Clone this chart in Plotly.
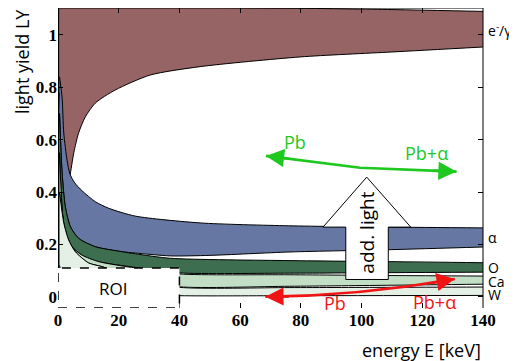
import plotly.graph_objects as go

# ---------------- data ----------------
# e-/gamma band
eg_up_E = [0.5, 50, 80, 110, 140]
eg_up_LY = [1.107, 1.105, 1.102, 1.097, 1.09]
eg_lo_E = [0.5, 1.0, 1.9, 3.0, 3.9, 5.2, 6.8, 9.0, 12.3, 18.9, 30.4, 46.8, 79.7, 110, 140]
eg_lo_LY = [0.78, 0.66, 0.5, 0.42, 0.46, 0.55, 0.626, 0.687, 0.74, 0.79, 0.847, 0.879, 0.916, 0.935, 0.954]

# alpha band
al_up_E = [0.5, 1.35, 1.9, 3.0, 3.9, 5.5, 7.9, 12.3, 16.7, 25.5, 46.8, 76, 110, 140]
al_up_LY = [0.84, 0.76, 0.625, 0.52, 0.47, 0.435, 0.405, 0.363, 0.338, 0.308, 0.282, 0.271, 0.266, 0.263]
al_lo_E = [0.5, 1.35, 2.4, 4.1, 6.8, 12.3, 21.1, 25.5, 37, 50, 76.4, 110, 140]
al_lo_LY = [0.7, 0.473, 0.344, 0.267, 0.223, 0.191, 0.172, 0.167, 0.156, 0.158, 0.171, 0.18, 0.19]

# O band
o_up_E = [0.5, 1.35, 2.4, 4.1, 6.8, 12.3, 21.1, 25.5, 37, 76.4, 110, 140]
o_up_LY = [0.7, 0.473, 0.344, 0.267, 0.223, 0.191, 0.172, 0.164, 0.147, 0.138, 0.134, 0.13]
o_lo_E = [0.5, 1.4, 2.4, 4.6, 7.9, 13.4, 25.5, 40, 76.4, 110, 140]
o_lo_LY = [0.55, 0.33, 0.243, 0.191, 0.159, 0.134, 0.112, 0.091, 0.09, 0.092, 0.094]

# Ca band
ca_up_E = [0.5, 1.4, 2.4, 4.6, 7.9, 13.4, 25.5, 40, 76.4, 110, 140]
ca_up_LY = [0.55, 0.33, 0.243, 0.191, 0.159, 0.134, 0.11, 0.087, 0.084, 0.081, 0.079]
ca_lo_E = [0.5, 1.9, 3.5, 5.7, 10.1, 14.5, 25, 40, 76.4, 110, 140]
ca_lo_LY = [0.4, 0.282, 0.217, 0.172, 0.129, 0.115, 0.07, 0.038, 0.04, 0.044, 0.048]

# W band
w_up_E = [0.5, 1.9, 3.5, 5.7, 10.1, 14.5, 25, 40, 76.4, 110, 140]
w_up_LY = [0.4, 0.282, 0.217, 0.172, 0.129, 0.115, 0.07, 0.036, 0.035, 0.036, 0.037]
w_lo_E = [0.5, 1.5, 3, 10, 40, 76.4, 140]
w_lo_LY = [0.12, 0.07, 0.04, 0.015, 0.004, 0.004, 0.005]

band_names = ["e<sup>-</sup>/γ", "α", "O", "Ca", "W"]
band_colors = ["#966464", "#6577a2", "#3d6e50", "#c2dfc6", "#e4efe6"]
band_label_LY = [1.02, 0.228, 0.11, 0.06, 0.01]

x_ticks = [0, 20, 40, 60, 80, 100, 120, 140]
x_ticktext = ["0", "20", "40", "60", "80", "100", "120", "140"]
y_ticks = [0, 0.2, 0.4, 0.6, 0.8, 1.0]
y_ticktext = ["0", "0.2", "0.4", "0.6", "0.8", "1"]

X_RANGE = [0, 140]
Y_RANGE = [-0.043, 1.103]
ROI_E = [0, 40]
ROI_TOP = 0.11

bands = [
    (eg_lo_E, eg_lo_LY, eg_up_E, eg_up_LY),
    (al_lo_E, al_lo_LY, al_up_E, al_up_LY),
    (o_lo_E, o_lo_LY, o_up_E, o_up_LY),
    (ca_lo_E, ca_lo_LY, ca_up_E, ca_up_LY),
    (w_lo_E, w_lo_LY, w_up_E, w_up_LY),
]

fig = go.Figure()
edge = dict(color="black", width=1, shape="spline", smoothing=0.7)
for (lE, lY, uE, uY), col in zip(bands, band_colors):
    fig.add_trace(go.Scatter(x=lE, y=lY, mode="lines", line=edge,
                             hoverinfo="skip", showlegend=False))
    fig.add_trace(go.Scatter(x=uE, y=uY, mode="lines", line=edge, fill="tonexty",
                             fillcolor=col, hoverinfo="skip", showlegend=False))

SANS = "Open Sans, Noto Sans, Liberation Sans, sans-serif"
SERIF = "Liberation Serif, Times New Roman, serif"

annotations = []
# band labels on the right
for name, ly in zip(band_names, band_label_LY):
    annotations.append(dict(x=140, y=ly, xref="x", yref="y", text=name, showarrow=False,
                            xanchor="left", xshift=3, font=dict(family=SANS, size=14, color="black")))

# axis titles
annotations.append(dict(x=-0.0847, y=0.82, xref="paper", yref="paper", text="light yield LY",
                        textangle=-90, xanchor="center", yanchor="middle", showarrow=False,
                        font=dict(family=SANS, size=18, color="black")))
annotations.append(dict(x=1.0, y=-0.14, xref="paper", yref="paper", text="energy E [keV]",
                        xanchor="right", yanchor="middle", showarrow=False,
                        font=dict(family=SANS, size=18, color="black")))

# ROI text
annotations.append(dict(x=18, y=0.032, text="ROI", showarrow=False,
                        font=dict(family=SANS, size=17, color="black")))

GREEN = "#1ec81e"
RED = "#f01414"
head = dict(text="", showarrow=True, arrowhead=2, arrowsize=1.4, arrowwidth=2.6,
            axref="pixel", ayref="pixel")

# green double arrow (Pb <-> Pb+alpha): polyline + two heads
g_pts = [(68.5, 0.538), (99.5, 0.493), (131.3, 0.478)]
annotations.append(dict(x=g_pts[0][0], y=g_pts[0][1], ax=25, ay=3, arrowcolor=GREEN, **head))
annotations.append(dict(x=g_pts[2][0], y=g_pts[2][1], ax=-25, ay=-1, arrowcolor=GREEN, **head))
annotations.append(dict(x=78.1, y=0.592, text="Pb", showarrow=False,
                        font=dict(family=SANS, size=18, color=GREEN)))
annotations.append(dict(x=121.4, y=0.548, text="Pb+α", showarrow=False,
                        font=dict(family=SANS, size=18, color=GREEN)))

# red double arrow: curve + two heads
r_start, r_ctrl, r_end = (68.3, 0.0), (99.5, 0.004), (130.7, 0.068)
annotations.append(dict(x=r_start[0], y=r_start[1], ax=25, ay=-0.3, arrowcolor=RED, **head))
annotations.append(dict(x=r_end[0], y=r_end[1], ax=-24.6, ay=4.3, arrowcolor=RED, **head))
annotations.append(dict(x=91.3, y=-0.025, text="Pb", showarrow=False,
                        font=dict(family=SANS, size=18, color=RED)))
annotations.append(dict(x=124.1, y=-0.021, text="Pb+α", showarrow=False,
                        font=dict(family=SANS, size=18, color=RED)))

# add. light text
annotations.append(dict(x=101.8, y=0.245, text="add. light", textangle=-90, showarrow=False,
                        font=dict(family=SANS, size=19, color="black")))

shapes = [
    # green polyline
    dict(type="path", xref="x", yref="y",
         path="M {},{} L {},{} L {},{}".format(*g_pts[0], *g_pts[1], *g_pts[2]),
         line=dict(color=GREEN, width=2.6)),
    # red curve
    dict(type="path", xref="x", yref="y",
         path="M {},{} Q {},{} {},{}".format(*r_start, *r_ctrl, *r_end),
         line=dict(color=RED, width=2.6)),
    # big white "add. light" arrow
    dict(type="path", xref="x", yref="y",
         path="M 94.8,0.066 L 94.8,0.266 L 87.3,0.266 L 101.7,0.457 L 116.2,0.266 "
              "L 108.8,0.266 L 108.8,0.066 Z",
         fillcolor="white", line=dict(color="black", width=1)),
    # ROI box
    dict(type="rect", xref="x", yref="y", x0=ROI_E[0], x1=ROI_E[1], y0=Y_RANGE[0], y1=ROI_TOP,
         fillcolor="white", line=dict(color="black", width=1.5, dash="dash")),
    # frame
    dict(type="line", xref="x", yref="y", x0=0, x1=0, y0=ROI_TOP, y1=Y_RANGE[1],
         line=dict(color="black", width=3)),
    dict(type="line", xref="paper", yref="paper", x0=0, x1=1, y0=1, y1=1,
         line=dict(color="black", width=1)),
    dict(type="line", xref="paper", yref="paper", x0=1, x1=1, y0=0, y1=1,
         line=dict(color="black", width=1)),
]

tickfont = dict(family=SERIF, size=17, color="black", weight="bold")
# the page places the figure 8px from the top-left corner, so the figure is
# sized to fill the 517x361 window exactly from there
fig.update_layout(
    width=509, height=353,
    margin=dict(l=50, r=34, t=0, b=53),
    paper_bgcolor="white", plot_bgcolor="white",
    showlegend=False,
    annotations=annotations,
    shapes=shapes,
    xaxis=dict(range=X_RANGE, tickvals=x_ticks, ticktext=x_ticktext, ticks="inside",
               ticklen=5, tickcolor="black", mirror="ticks", showline=False, showgrid=False,
               zeroline=False, tickfont=tickfont),
    yaxis=dict(range=Y_RANGE, tickvals=y_ticks, ticktext=y_ticktext, ticks="inside",
               ticklen=5, tickcolor="black", mirror="ticks", showline=False, showgrid=False,
               zeroline=False, tickfont=tickfont),
)

fig.write_html("out.html")
